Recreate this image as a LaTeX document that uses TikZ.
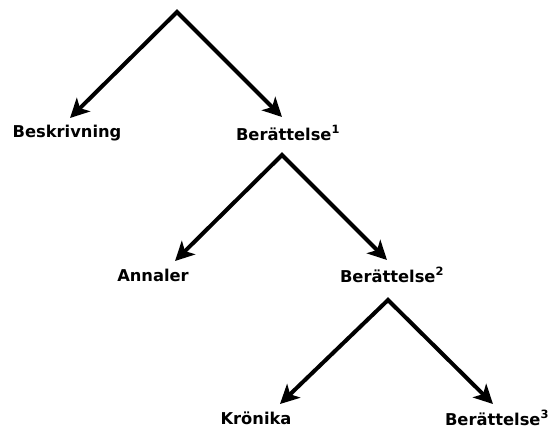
\documentclass[tikz,border=0pt]{standalone}
\usepackage{fontspec}
\setmainfont{DejaVu Sans}
\usetikzlibrary{arrows.meta}

\begin{document}
\begin{tikzpicture}[x=1pt,y=-1pt,
  lbl/.style={font=\bfseries\fontsize{16.3}{18}\selectfont, inner sep=1pt},
  fork/.style={line width=4pt, {Stealth[length=19pt,width=19pt,inset=5pt]}-{Stealth[length=19pt,width=19pt,inset=5pt]}}]
\useasboundingbox (0,0) rectangle (548,432);
% first split
\coordinate (top) at (177,12);
\node[lbl] (besk) at (67,133) {Beskrivning};
\node[lbl] (ber1) at (288,133) {Berättelse\textsuperscript{1}};
\coordinate (besktip) at (70,118);
\coordinate (ber1tip) at (282,117);
\draw[fork] (besktip) -- (top) -- (ber1tip);
% second split
\coordinate (ber1fork) at (282,155);
\node[lbl] (ann) at (153,275) {Annaler};
\node[lbl] (ber2) at (392,275) {Berättelse\textsuperscript{2}};
\coordinate (anntip) at (175,261);
\coordinate (ber2tip) at (387,260);
\draw[fork] (anntip) -- (ber1fork) -- (ber2tip);
% third split
\coordinate (ber2fork) at (388,300);
\node[lbl] (kron) at (256,418) {Krönika};
\node[lbl] (ber3) at (497,418) {Berättelse\textsuperscript{3}};
\coordinate (krontip) at (280,404);
\coordinate (ber3tip) at (493,404);
\draw[fork] (krontip) -- (ber2fork) -- (ber3tip);
\end{tikzpicture}
\end{document}
